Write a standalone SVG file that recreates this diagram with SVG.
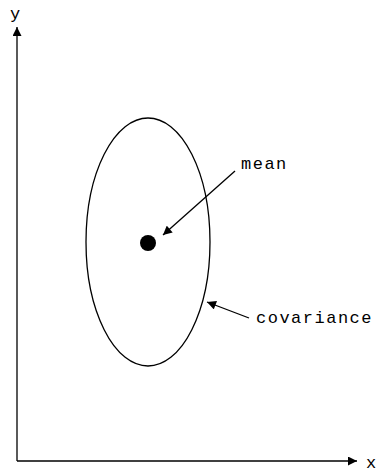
<svg xmlns="http://www.w3.org/2000/svg" width="379" height="472" viewBox="0 0 379 472">
<style>
.ln{stroke:#000;stroke-width:1.3;fill:none}
.t{font-family:"Liberation Mono","Courier New",monospace;font-size:17px;letter-spacing:1.5px;fill:#000}
</style>
<defs>
<marker id="ah" viewBox="0 0 10 10" refX="10" refY="5" markerWidth="10" markerHeight="9" markerUnits="userSpaceOnUse" orient="auto">
<path d="M0,0 L10,5 L0,10 Z" fill="#000"/>
</marker>
</defs>
<rect width="379" height="472" fill="#fff"/>
<g id="axes">
<line class="ln" x1="17" y1="461" x2="17" y2="27" marker-end="url(#ah)" stroke-width="1.6"/>
<line class="ln" x1="17" y1="461" x2="357" y2="461" marker-end="url(#ah)" stroke-width="1.6"/>
<text class="t" x="10" y="19">y</text>
<text class="t" x="366" y="468">x</text>
</g>
<g id="ellipse">
<ellipse class="ln" cx="148" cy="242" rx="62" ry="124"/>
</g>
<g id="mean-dot">
<circle cx="148" cy="243" r="8" fill="#000"/>
</g>
<g id="connectors">
<line class="ln" x1="235" y1="171" x2="163" y2="235" marker-end="url(#ah)"/>
<line class="ln" x1="249" y1="318" x2="207" y2="302" marker-end="url(#ah)"/>
</g>
<g id="label-mean">
<text class="t" x="241" y="169">mean</text>
</g>
<g id="label-covariance">
<text class="t" x="256" y="323">covariance</text>
</g>
</svg>
